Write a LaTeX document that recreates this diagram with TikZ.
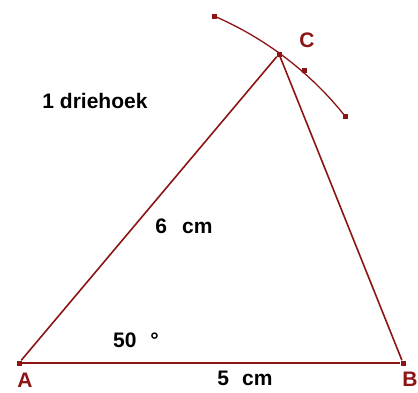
\documentclass[tikz,border=0pt]{standalone}
\usepackage{fontspec}
\setmainfont{Liberation Sans}
\definecolor{lijnrood}{RGB}{140,20,20}
\begin{document}
\begin{tikzpicture}
  [x=1pt,y=-1pt,
   every node/.style={font=\bfseries\fontsize{21}{24}\selectfont},
   hoek/.style={rectangle,fill=lijnrood,inner sep=0pt,minimum size=5pt},
   letter/.style={text=lijnrood},
   zijde/.style={draw=lijnrood,line width=1.6pt}]
  \useasboundingbox (0,0) rectangle (418,392);

  \node[hoek] (A) at (19,363)  {};
  \node[hoek] (B) at (403,363) {};
  \node[hoek] (C) at (279,54)  {};
  \node[hoek] (s) at (214,16)  {};
  \node[hoek] (m) at (304,70)  {};
  \node[hoek] (e) at (345,116) {};

  \foreach \from/\to in {A/B,A/C,B/C}
    \draw[zijde] (\from) -- (\to);
  % boog van de passer
  \draw[lijnrood,line width=1.3pt] (s.center) .. controls (265,38) and (310,72) .. (e.center);

  \node[letter] (la) at (25,380)  {A};
  \node[letter] (lb) at (410,379) {B};
  \node[letter] (lc) at (307,40)  {C};
  \node (titel) at (95,101)  {1 driehoek};
  \node (ac)    at (184,226) {6\hspace{15pt}cm};
  \node (ab)    at (245,378) {5\hspace{13pt}cm};
  \node (hk)    at (136,340) {50\hspace{14pt}°};

\end{tikzpicture}
\end{document}
